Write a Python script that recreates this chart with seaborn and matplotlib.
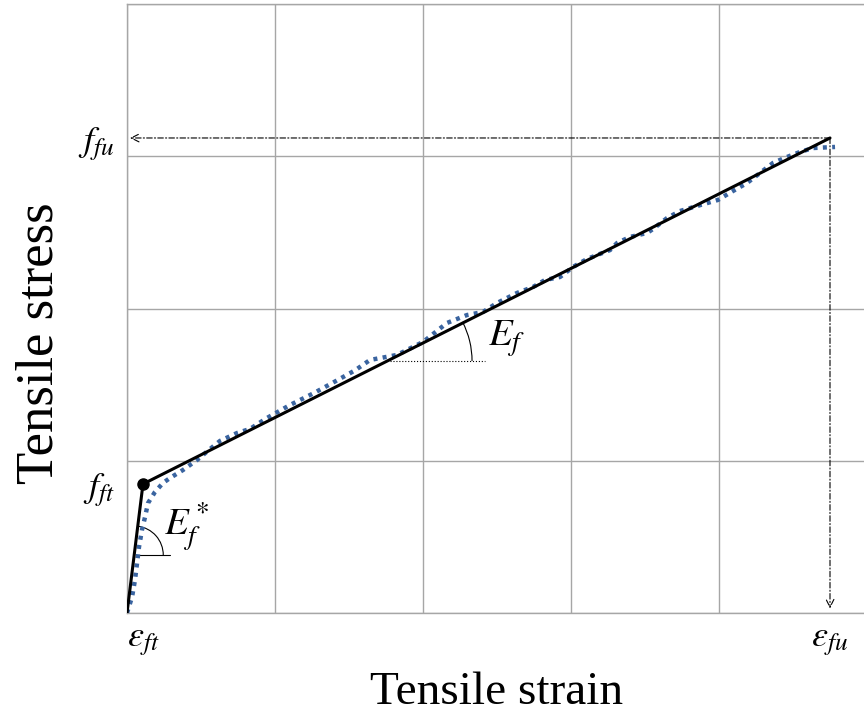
import matplotlib.pyplot as plt
import seaborn as sns
from matplotlib.patches import Arc

# measured tensile test curve (dotted)
test_strain = [0.000, 0.034, 0.054, 0.068, 0.081, 0.101, 0.122, 0.142, 0.189, 0.243,
               0.291, 0.378, 0.473, 0.561, 0.628, 0.743, 0.831, 0.946, 1.101, 1.264,
               1.399, 1.541, 1.642, 1.824, 2.000, 2.162, 2.297, 2.405, 2.500, 2.635,
               2.743, 2.824, 2.926, 3.014, 3.108, 3.176, 3.264, 3.311, 3.399, 3.514,
               3.554, 3.649, 3.736, 3.851, 3.993, 4.095, 4.189, 4.277, 4.365, 4.459,
               4.547, 4.635, 4.784]
test_stress = [0.000, 0.105, 0.217, 0.328, 0.433, 0.545, 0.631, 0.722, 0.795, 0.854,
               0.887, 0.939, 1.005, 1.077, 1.130, 1.182, 1.209, 1.281, 1.366, 1.445,
               1.517, 1.594, 1.662, 1.695, 1.780, 1.905, 1.957, 1.977, 2.036, 2.102,
               2.141, 2.187, 2.207, 2.273, 2.325, 2.351, 2.384, 2.430, 2.470, 2.496,
               2.522, 2.594, 2.640, 2.673, 2.713, 2.772, 2.824, 2.890, 2.956, 2.995,
               3.028, 3.054, 3.061]

# bilinear idealisation
model_strain = [0.0, 0.108, 4.75]
model_stress = [0.0, 0.847, 3.12]

eps_ft, eps_fu = 0.108, 4.75
f_ft, f_fu = 0.847, 3.12

sns.set_style('white')
plt.rcParams['font.family'] = ['Liberation Serif', 'DejaVu Serif']
plt.rcParams['mathtext.fontset'] = 'stix'
plt.rcParams['text.color'] = 'black'
plt.rcParams['axes.labelcolor'] = 'black'
plt.rcParams['xtick.color'] = 'black'
plt.rcParams['ytick.color'] = 'black'

fig = plt.figure(figsize=(8.64, 7.17), dpi=100)
ax = fig.add_axes([127 / 864, 104 / 717, 740 / 864, 609 / 717])

# curves
sns.lineplot(x=test_strain, y=test_stress, ax=ax, sort=False, estimator=None,
             color='#3A64A0', lw=3.2, linestyle=(0, (0.9, 1.2)), zorder=3)
sns.lineplot(x=model_strain, y=model_stress, ax=ax, sort=False, estimator=None,
             color='black', lw=2.2, zorder=4)
ax.plot([eps_ft], [f_ft], 'o', color='black', ms=8, zorder=5)

# dash-dot guides to f_fu and eps_fu
arrow = dict(arrowstyle='->', linestyle=(0, (5, 2, 1, 2)), lw=0.8, color='black',
             mutation_scale=14, shrinkA=0, shrinkB=0)
ax.annotate('', xy=(0.02, f_fu), xytext=(eps_fu, f_fu), arrowprops=arrow)
ax.annotate('', xy=(eps_fu, 0.03), xytext=(eps_fu, f_fu), arrowprops=arrow)

# slope markers
ax.plot([1.777, 2.419], [1.655, 1.655], ':', color='black', lw=0.8)
ax.add_patch(Arc((1.757, 1.655), 2 * 85 / 148, 2 * 85 / 152.25,
                 theta1=0, theta2=26.7, color='black', lw=0.8))
ax.text(2.44, 1.80, r'$E_f$', fontsize=28, ha='left', va='center')

ax.plot([0.073, 0.291], [0.381, 0.381], '-', color='black', lw=0.8)
ax.add_patch(Arc((0.049, 0.381), 2 * 29 / 148, 2 * 29 / 152.25,
                 theta1=0, theta2=83, color='black', lw=0.8))
ax.text(0.25, 0.56, r'$E_f^*$', fontsize=28, ha='left', va='center')

# axes, grid and ticks
ax.set_xlim(0, 5)
ax.set_ylim(0, 4)
ax.set_xticks(range(6))
ax.set_yticks(range(5))
ax.set_xticklabels([])
ax.set_yticklabels([])
ax.tick_params(which='major', length=0)
ax.grid(True, color='#A6A6A6', lw=1.0)
ax.set_axisbelow(True)

ax.set_xticks([eps_ft, eps_fu], minor=True)
ax.set_xticklabels([r'$\varepsilon_{ft}$', r'$\varepsilon_{fu}$'], minor=True, fontsize=26)
ax.set_yticks([f_ft, f_fu], minor=True)
ax.set_yticklabels([r'$f_{ft}$', r'$f_{fu}$'], minor=True, fontsize=26)
ax.tick_params(which='minor', direction='inout', length=6, width=0.8, color='black', pad=6)
ax.xaxis.get_minor_ticks()[1].tick1line.set_visible(False)
ax.yaxis.get_minor_ticks()[1].tick1line.set_visible(False)

for side in ['left', 'bottom', 'top']:
    ax.spines[side].set_color('#A6A6A6')
    ax.spines[side].set_linewidth(1.0)
ax.spines['right'].set_visible(False)

ax.set_xlabel('Tensile strain', fontsize=34, labelpad=9)
ax.set_ylabel('Tensile stress', fontsize=38)
ax.yaxis.set_label_coords(-0.086, 0.443)

plt.savefig('out.png', dpi=100)
